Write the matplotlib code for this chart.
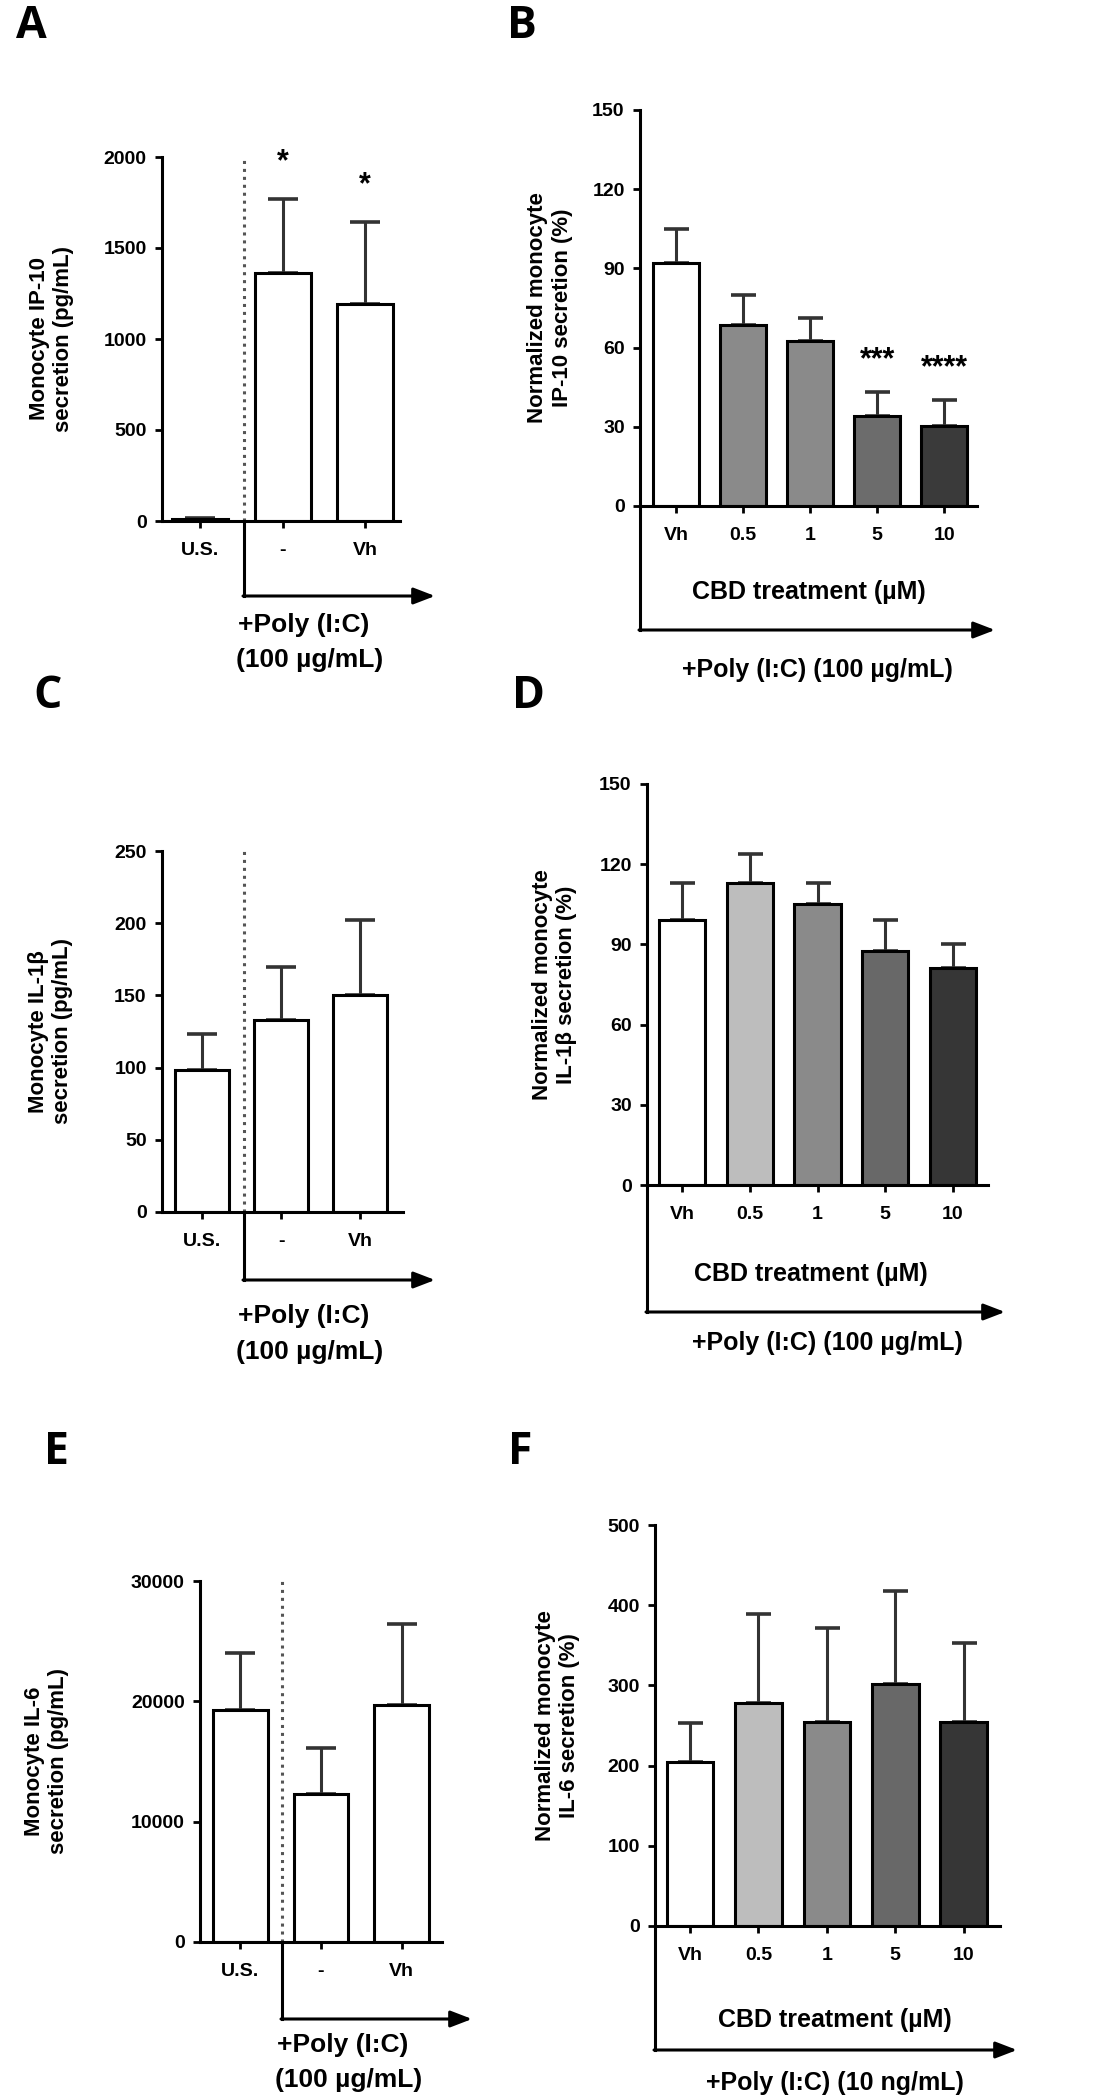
import matplotlib.pyplot as plt
import numpy as np

plt.rcParams['font.family'] = ['Liberation Sans', 'DejaVu Sans']
plt.rcParams['font.weight'] = 'bold'

W, H = 1113, 2100

# ---- data ----
ctrl_groups = ['U.S.', '-', 'Vh']
cbd_groups = ['Vh', '0.5', '1', '5', '10']

a_mean = [12, 1360, 1190]
a_err = [6, 410, 455]
a_stars = ['', '*', '*']

b_mean = [92, 68.6, 62.4, 34.2, 30.3]
b_err = [13, 11.5, 9, 9, 9.7]
b_stars = ['', '', '', '***', '****']

c_mean = [98, 133, 150]
c_err = [25, 37, 52]

d_mean = [99, 113, 105, 87.5, 81.3]
d_err = [14, 11, 8, 11.5, 9]

e_mean = [19300, 12300, 19700]
e_err = [4700, 3800, 6700]

f_mean = [204, 278, 254, 302, 254]
f_err = [49, 111, 117, 116, 99]

a_ticks = [0, 500, 1000, 1500, 2000]
b_ticks = [0, 30, 60, 90, 120, 150]
c_ticks = [0, 50, 100, 150, 200, 250]
d_ticks = [0, 30, 60, 90, 120, 150]
e_ticks = [0, 10000, 20000, 30000]
f_ticks = [0, 100, 200, 300, 400, 500]

b_colors = ['white', '#8a8a8a', '#8a8a8a', '#6c6c6c', '#3a3a3a']
df_colors = ['white', '#bdbdbd', '#8a8a8a', '#686868', '#363636']

fig = plt.figure(figsize=(W / 100, H / 100), dpi=100)


def px_ax(left, right, top, bottom):
    return fig.add_axes([left / W, 1 - bottom / H, (right - left) / W, (bottom - top) / H])


def style(ax, ticks, ylab, lab_x):
    for s in ['top', 'right']:
        ax.spines[s].set_visible(False)
    for s in ['left', 'bottom']:
        ax.spines[s].set_linewidth(2.2)
    ax.set_ylim(ticks[0], ticks[-1])
    ax.set_yticks(ticks)
    ax.tick_params(width=2, length=5, labelsize=14)
    ax.tick_params(axis='y', pad=6)
    ax.tick_params(axis='x', pad=10)
    ax.set_ylabel(ylab, fontsize=16, fontweight='bold', linespacing=1.2)
    ax.yaxis.set_label_coords(lab_x, 0.5)
    ax.set_facecolor('none')


def bars(ax, mean, err, colors, cap, stars=None, star_off=0):
    x = np.arange(len(mean))
    ax.errorbar(x, mean, yerr=[np.zeros(len(err)), err], fmt='none',
                ecolor='#333333', elinewidth=2.2, capsize=cap, capthick=2.6, zorder=1)
    ax.bar(x, mean, width=0.68, color=colors, edgecolor='black', linewidth=2.2, zorder=2)
    if stars:
        for xi, m, e, s in zip(x, mean, err, stars):
            if s:
                ax.text(xi, m + e + star_off, s, ha='center', va='center',
                        fontsize=22, fontweight='bold')
    return x


def fpx(x, y):
    return (x / W, 1 - y / H)


def poly_arrow(x0, y0, y1, x2):
    fig.add_artist(plt.Line2D([x0 / W, x0 / W], [1 - y0 / H, 1 - y1 / H],
                              transform=fig.transFigure, color='black', lw=2.2))
    fig.axes[0].annotate('', xy=fpx(x2, y1), xytext=fpx(x0 - 1, y1),
                         xycoords='figure fraction', textcoords='figure fraction',
                         arrowprops=dict(arrowstyle='-|>,head_length=1.3,head_width=0.5',
                                         color='black', lw=2.2, shrinkA=0, shrinkB=0),
                         annotation_clip=False)


def letter(t, x, y):
    fig.text(x / W, 1 - y / H, t, fontsize=32, fontweight='bold',
             family=['Open Sans', 'DejaVu Sans'], ha='center', va='center')


# ---- A ----
ax = px_ax(162, 400, 157, 521)
style(ax, a_ticks, 'Monocyte IP-10\nsecretion (pg/mL)', -0.37)
x = bars(ax, a_mean, a_err, ['white'] * 3, 11, a_stars, 200)
ax.set_xlim(-0.46, 2.42)
ax.set_xticks(x, ctrl_groups)
ax.axvline(0.53, color='#555555', ls=(0, (1, 1.6)), lw=2.2)
poly_arrow(244, 521, 596, 435)
fig.text(238 / W, 1 - 625 / H, '+Poly (I:C)', fontsize=19, va='center')
fig.text(236 / W, 1 - 660 / H, '(100 \u00b5g/mL)', fontsize=19, va='center')

# ---- B ----
ax = px_ax(640, 977, 110, 506)
style(ax, b_ticks, 'Normalized monocyte\nIP-10 secretion (%)', -0.20)
x = bars(ax, b_mean, b_err, b_colors, 9, b_stars, 12)
ax.set_xlim(-0.54, 4.49)
ax.set_xticks(x, cbd_groups)
ax.set_xlabel('CBD treatment (\u00b5M)', fontsize=18, fontweight='bold')
ax.xaxis.set_label_coords(0.5, -0.187)
poly_arrow(640, 506, 630, 995)
fig.text(817 / W, 1 - 670 / H, '+Poly (I:C) (100 \u00b5g/mL)', fontsize=18, ha='center', va='center')

# ---- C ----
ax = px_ax(162, 403, 851, 1212)
style(ax, c_ticks, 'Monocyte IL-1\u03b2\nsecretion (pg/mL)', -0.37)
x = bars(ax, c_mean, c_err, ['white'] * 3, 11)
ax.set_xlim(-0.51, 2.54)
ax.set_xticks(x, ctrl_groups)
ax.axvline(0.53, color='#555555', ls=(0, (1, 1.6)), lw=2.2)
poly_arrow(244, 1212, 1280, 435)
fig.text(238 / W, 1 - 1316 / H, '+Poly (I:C)', fontsize=19, va='center')
fig.text(236 / W, 1 - 1352 / H, '(100 \u00b5g/mL)', fontsize=19, va='center')

# ---- D ----
ax = px_ax(647, 988, 784, 1185)
style(ax, d_ticks, 'Normalized monocyte\nIL-1\u03b2 secretion (%)', -0.205)
x = bars(ax, d_mean, d_err, df_colors, 9)
ax.set_xlim(-0.52, 4.52)
ax.set_xticks(x, cbd_groups)
ax.set_xlabel('CBD treatment (\u00b5M)', fontsize=18, fontweight='bold')
ax.xaxis.set_label_coords(0.48, -0.192)
poly_arrow(647, 1185, 1312, 1005)
fig.text(827 / W, 1 - 1343 / H, '+Poly (I:C) (100 \u00b5g/mL)', fontsize=18, ha='center', va='center')

# ---- E ----
ax = px_ax(200, 442, 1581, 1942)
style(ax, e_ticks, 'Monocyte IL-6\nsecretion (pg/mL)', -0.54)
x = bars(ax, e_mean, e_err, ['white'] * 3, 11)
ax.set_xlim(-0.5, 2.5)
ax.set_xticks(x, ctrl_groups)
ax.axvline(0.52, color='#555555', ls=(0, (1, 1.6)), lw=2.2)
poly_arrow(282, 1942, 2019, 472)
fig.text(277 / W, 1 - 2045 / H, '+Poly (I:C)', fontsize=19, va='center')
fig.text(275 / W, 1 - 2080 / H, '(100 \u00b5g/mL)', fontsize=19, va='center')

# ---- F ----
ax = px_ax(655, 1000, 1525, 1926)
style(ax, f_ticks, 'Normalized monocyte\nIL-6 secretion (%)', -0.217)
x = bars(ax, f_mean, f_err, df_colors, 9)
ax.set_xlim(-0.51, 4.53)
ax.set_xticks(x, cbd_groups)
ax.set_xlabel('CBD treatment (\u00b5M)', fontsize=18, fontweight='bold')
ax.xaxis.set_label_coords(0.52, -0.204)
poly_arrow(655, 1926, 2050, 1017)
fig.text(835 / W, 1 - 2083 / H, '+Poly (I:C) (10 ng/mL)', fontsize=18, ha='center', va='center')

letter('A', 31, 27)
letter('B', 522, 27)
letter('C', 48, 697)
letter('D', 528, 697)
letter('E', 57, 1452)
letter('F', 520, 1452)

fig.savefig('out.png', dpi=100)
